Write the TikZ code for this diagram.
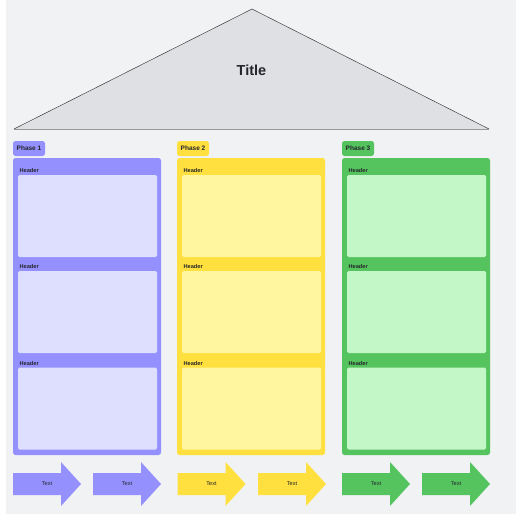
\documentclass[tikz,border=0pt]{standalone}
\usepackage{fontspec}
\setmainfont{Liberation Sans}
\usetikzlibrary{calc}
\definecolor{bgc}{HTML}{F1F2F4}
\definecolor{tric}{HTML}{DEE0E4}
\definecolor{pur}{HTML}{9491FF}
\definecolor{purl}{HTML}{DEDEFF}
\definecolor{yel}{HTML}{FFE03F}
\definecolor{yell}{HTML}{FFF69F}
\definecolor{grn}{HTML}{55C45F}
\definecolor{grnl}{HTML}{C4F7C8}
\definecolor{txt}{HTML}{24252A}
\begin{document}
\begin{tikzpicture}[x=1pt,y=-1pt,
  box/.style={inner sep=0pt, outer sep=0pt, anchor=north west, rounded corners=2.5pt},
  colbox/.style={box, fill=#1, minimum width=148pt, minimum height=297pt},
  tab/.style={box, fill=#1, minimum width=32pt, minimum height=15pt},
  inbox/.style={box, fill=#1, minimum width=139pt, minimum height=82pt, rounded corners=1.5pt},
  tabtxt/.style={text=txt, font=\fontsize{6.5}{7}\selectfont\bfseries, inner sep=0pt},
  hdr/.style={text=txt, font=\fontsize{5.6}{6}\selectfont\bfseries, inner sep=0pt, anchor=west},
  arrtxt/.style={text=txt, font=\fontsize{5.6}{6}\selectfont, inner sep=0pt},
  titletxt/.style={text=txt, font=\fontsize{14.5}{16}\selectfont\bfseries, inner sep=0pt}
]
\useasboundingbox (0,0) rectangle (516,516);
\fill[bgc] (6,0) rectangle (516,514);
% roof
\fill[tric] (252,9) -- (489,129) -- (14,129) -- cycle;
\draw[line width=0.5pt, draw=black!75] (14,129) -- (252,9) -- (489,129);
\draw[line width=0.6pt, draw=black!40] (14,129) -- (489,129);
\node[titletxt] (title) at (251.5,70) {Title};
% columns
\foreach \x/\c/\l/\n in {13/pur/purl/1, 177/yel/yell/2, 342/grn/grnl/3}{
  \node[tab=\c] (tab\n) at (\x,141) {};
  \node[tabtxt] (tabt\n) at ($(\x,148.5)+(16,0)$) {Phase \n};
  \node[colbox=\c] (col\n) at (\x,158) {};
  \foreach \y/\k in {175/a, 271/b, 367.5/c}{
    \node[inbox=\l] (in\n\k) at ($(\x,\y)+(5,0)$) {};
    \node[hdr] (hd\n\k) at ($(\x,\y)+(6.5,-4.5)$) {Header};
  }
}
% arrows
\foreach \x/\c/\n in {13/pur/1, 93/pur/2, 177.5/yel/3, 258/yel/4, 342/grn/5, 422/grn/6}{
  \fill[\c] (\x,473) -- ++(48,0) -- ++(0,-11) -- ++(20,22) -- ++(-20,22) -- ++(0,-11) -- ++(-48,0) -- cycle;
  \node[arrtxt] (arr\n) at ($(\x,484)+(34,0)$) {Text};
}
\end{tikzpicture}
\end{document}
